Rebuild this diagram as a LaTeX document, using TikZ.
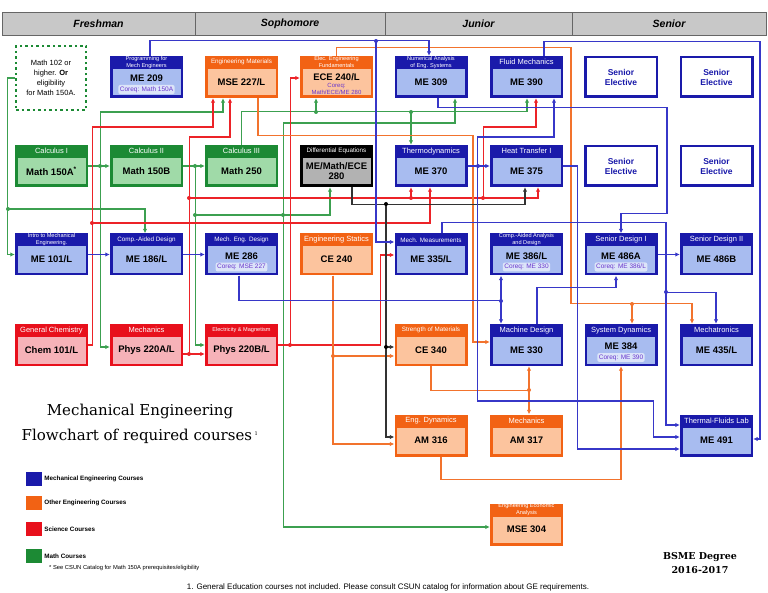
\documentclass[tikz,border=0pt]{standalone}
\usepackage{fontspec}
\setmainfont{Liberation Sans}
\newfontfamily\titleserif{DejaVu Serif}
\usepackage{tikz}
\usetikzlibrary{arrows.meta,positioning,calc}

\definecolor{medark}{RGB}{26,26,170}
\definecolor{melight}{RGB}{168,188,240}
\definecolor{mline}{RGB}{55,55,200}
\definecolor{engdark}{RGB}{242,98,20}
\definecolor{englight}{RGB}{252,196,158}
\definecolor{eline}{RGB}{242,115,45}
\definecolor{scidark}{RGB}{232,16,28}
\definecolor{scilight}{RGB}{246,178,184}
\definecolor{sline}{RGB}{236,35,40}
\definecolor{mathdark}{RGB}{28,138,52}
\definecolor{mathlight}{RGB}{160,218,168}
\definecolor{gline}{RGB}{60,160,80}
\definecolor{dedark}{RGB}{0,0,0}
\definecolor{delight}{RGB}{178,178,178}
\definecolor{coreqtext}{RGB}{105,55,205}
\definecolor{hdrfill}{RGB}{200,200,200}

\newcommand{\sm}{\fontsize{6.3}{6}\selectfont}
\newcommand{\xs}{\fontsize{5.6}{5}\selectfont}

\tikzset{
  course/.style={rectangle, minimum width=73pt, minimum height=42pt, inner sep=0pt, fill=#1dark,
    path picture={\fill[#1light] ([shift={(2.5pt,2.5pt)}]path picture bounding box.south west)
      rectangle ([shift={(-2.5pt,-13pt)}]path picture bounding box.north east);}},
  ctitle/.style={text=white, font=\fontsize{7.5}{7}\selectfont, align=center, inner sep=0pt},
  ccode/.style={font=\bfseries\fontsize{9.5}{10.5}\selectfont, align=center, inner sep=0pt},
  coreq/.style={rounded corners=2pt, fill=white!60!melight, text=coreqtext, font=\fontsize{6.5}{6.5}\selectfont, inner sep=1.5pt},
  elective/.style={rectangle, draw=medark, line width=2.5pt, fill=white, minimum width=71.5pt, minimum height=39.5pt,
    text=medark, font=\bfseries\fontsize{8.5}{10}\selectfont, align=center},
  prebox/.style={rectangle, draw=mathdark, line width=2.5pt, dash pattern=on 2.5pt off 3pt, minimum width=70pt,
    minimum height=64pt, align=center, font=\fontsize{7.5}{10}\selectfont},
  yearbar/.style={fill=hdrfill, draw=black!60, line width=0.8pt},
  yeartxt/.style={font=\bfseries\itshape\fontsize{10.5}{12}\selectfont},
  link/.style={line width=1.3pt, -{Latex[length=4.5pt,width=4.5pt]}},
  mlink/.style={link, draw=mline},
  elink/.style={link, draw=eline},
  slink/.style={link, draw=sline},
  glink/.style={link, draw=gline},
  klink/.style={link, draw=black!80},
  legsq/.style={rectangle, minimum width=16pt, minimum height=14pt, inner sep=0pt},
  legtxt/.style={font=\bfseries\fontsize{6.3}{7}\selectfont, inner sep=0pt}
}

% course box: name, kind, position, title, code
\newcommand{\course}[5]{%
  \node[course=#2] (#1) at (#3) {};
  \node[ctitle] (#1-t) at ([yshift=-6.5pt]#1.north) {#4};
  \node[ccode] (#1-c) at ([yshift=-5pt]#1.center) {#5};}
% course box with a coreq tag
\newcommand{\coursec}[6]{%
  \node[course=#2] (#1) at (#3) {};
  \node[ctitle] (#1-t) at ([yshift=-6.5pt]#1.north) {#4};
  \node[ccode] (#1-c) at ([yshift=-1.5pt]#1.center) {#5};
  \node[coreq] (#1-r) at ([yshift=-12.5pt]#1.center) {#6};}

\begin{document}
\begin{tikzpicture}[x=1pt,y=-1pt]
  \useasboundingbox (0,0) rectangle (768,593);

  % year header
  \foreach \i/\a/\b/\yr in {1/2/195/Freshman, 2/195/385/Sophomore, 3/385/572/Junior, 4/572/766/Senior} {
    \draw[yearbar] (\a,12) rectangle (\b,35);
    \node[yeartxt] (yr\i) at ({(\a+\b)/2},23.5) {\yr};
  }

  % row 1
  \node[prebox] (math102) at (51,78) {Math 102 or\\higher. \textbf{Or}\\eligibility\\for Math 150A.};
  \coursec{me209}{me}{146.5,77}{\xs Programming for\\\xs Mech Engineers}{ME 209}{Coreq: Math 150A}
  \course{mse227}{eng}{241.5,77}{\sm Engineering Materials}{MSE 227/L}
  \node[course=eng] (ece240) at (336.5,77) {};
  \node[ctitle] (ece240-t) at ([yshift=-6.5pt]ece240.north) {\xs Elec. Engineering\\\xs Fundamentals};
  \node[ccode] (ece240-c) at ([yshift=0pt]ece240.center) {ECE 240/L};
  \node[align=center, text=coreqtext, font=\fontsize{6}{7.5}\selectfont, inner sep=0pt] (ece240-r)
    at ([yshift=-12pt]ece240.center) {Coreq:\\Math/ECE/ME 280};
  \course{me309}{me}{431,77}{\xs Numerical Analysis\\\xs of Eng. Systems}{ME 309}
  \course{me390}{me}{526.5,77}{Fluid Mechanics}{ME 390}
  \node[elective] (el1) at (621,77) {Senior\\Elective};
  \node[elective] (el2) at (716.5,77) {Senior\\Elective};

  % row 2
  \course{m150a}{math}{51.5,166}{Calculus I}{Math 150A\textsuperscript{*}}
  \course{m150b}{math}{146.5,166}{Calculus II}{Math 150B}
  \course{m250}{math}{241.5,166}{Calculus III}{Math 250}
  \course{de280}{de}{336.5,166}{\sm Differential Equations}{ME/Math/ECE\\280}
  \course{me370}{me}{431,166}{Thermodynamics}{ME 370}
  \course{me375}{me}{526.5,166}{Heat Transfer I}{ME 375}
  \node[elective] (el3) at (621,166) {Senior\\Elective};
  \node[elective] (el4) at (716.5,166) {Senior\\Elective};

  % row 3
  \course{me101}{me}{51.5,254.5}{\xs Intro to Mechanical\\\xs Engineering.}{ME 101/L}
  \course{me186}{me}{146.5,254.5}{\sm Comp.-Aided Design}{ME 186/L}
  \coursec{me286}{me}{241.5,254.5}{\sm Mech. Eng. Design}{ME 286}{Coreq: MSE 227}
  \course{ce240}{eng}{336.5,254.5}{Engineering Statics}{CE 240}
  \course{me335}{me}{431,254.5}{\sm Mech. Measurements}{ME 335/L}
  \coursec{me386}{me}{526.5,254.5}{\xs Comp.-Aided Analysis\\\xs and Design}{ME 386/L}{Coreq: ME 330}
  \coursec{me486a}{me}{621,254.5}{Senior Design I}{ME 486A}{Coreq: ME 386/L}
  \course{me486b}{me}{716.5,254.5}{Senior Design II}{ME 486B}

  % row 4
  \course{chem101}{sci}{51.5,345}{General Chemistry}{Chem 101/L}
  \course{ph220a}{sci}{146.5,345}{Mechanics}{Phys 220A/L}
  \course{ph220b}{sci}{241.5,345}{\xs Electricity \& Magnetism}{Phys 220B/L}
  \course{ce340}{eng}{431,345}{\sm Strength of Materials}{CE 340}
  \course{me330}{me}{526.5,345}{Machine Design}{ME 330}
  \coursec{me384}{me}{621,345}{System Dynamics}{ME 384}{Coreq: ME 390}
  \course{me435}{me}{716.5,345}{Mechatronics}{ME 435/L}

  % row 5 and 6
  \course{am316}{eng}{431,435.5}{Eng. Dynamics}{AM 316}
  \course{am317}{eng}{526.5,435.5}{Mechanics}{AM 317}
  \course{me491}{me}{716.5,435.5}{Thermal-Fluids Lab}{ME 491}
  \course{mse304}{eng}{526.5,524.5}{\xs Engineering Economic\\\xs Analysis}{MSE 304}

  % math links
  \draw[glink] (m150a) -- (m150b);
  \draw[glink] (m150b) -- (m250);
  \draw[glink] (math102.west) -- ++(-7,0) |- (me101.west);
  \draw[glink] (math102.west) -- ++(-7,0) -- ++(0,131) -| ([xshift=-1.5pt]me186.north);
  \draw[glink] (m150a.east) -- ++(12,0) -- ++(0,-54) -| ([xshift=-18.5pt]mse227.south);
  \draw[glink] (m150a.east) -- ++(12,0) |- ([yshift=-2pt]ph220a.west);
  \draw[glink] (m250.north) -- ++(0,-33) -| ([xshift=0.5pt]me390.south);
  \draw[glink] (m250.north) -- ++(0,-33) -| ([xshift=-20.5pt]ece240.south);
  \draw[glink] (m250.north) -- ++(0,-33) -| ([xshift=-20pt]me370.north);
  \draw[glink] (m150b.east) -- ++(12,0) |- (ph220b.west);
  \draw[glink] (m150b.east) -- ++(12,0) -- ++(0,49) -| ([xshift=-6.5pt]de280.south);
  \draw[glink] (m150b.east) -- ++(12,0) -- ++(0,49) -- ++(88,0) -- ++(0,-92) -| ([xshift=24pt]me309.south);
  \draw[glink] (m150b.east) -- ++(12,0) -- ++(0,49) -- ++(88,0) |- ([yshift=-2.5pt]mse304.west);

  % science links
  \draw[slink] (chem101.east) -- ++(4,0) -- ++(0,-218) -| ([xshift=-28.5pt]mse227.south);
  \draw[slink] (chem101.east) -- ++(4,0) -- ++(0,-122) -| ([xshift=-1pt]me370.south);
  \draw[slink] ([yshift=-9pt]ph220a.east) -- ([yshift=-9pt]ph220b.west);
  \draw[slink] ([yshift=-9pt]ph220a.east) -- ++(6,0) -- ++(0,-217) -| ([xshift=-11.5pt]mse227.south);
  \draw[slink] ([yshift=-9pt]ph220a.east) -- ++(6,0) -- ++(0,-156) -| ([xshift=11.5pt]me375.south);
  \draw[slink] ([yshift=-9pt]ph220a.east) -- ++(6,0) -- ++(0,-156) -| ([xshift=-20pt]me370.south);
  \draw[slink] ([yshift=-9pt]ph220a.east) -- ++(6,0) -- ++(0,-156) -- ++(294,0) -- ++(0,-71) -| ([xshift=9.5pt]me390.south);
  \draw[slink] (ph220b.east) -- ++(102,0) |- ([yshift=-0.5pt]me335.west);
  \draw[slink] (ph220b.east) -- ++(12,0) |- ([yshift=-1pt]ece240.west);

  % other engineering links
  \draw[elink] ([xshift=16.5pt]mse227.south) -- ++(0,37) -- ++(215,0) |- ([yshift=3pt]me330.west);
  \draw[elink] (ece240.north) -- ++(0,-8) -- ++(234.5,0) -- ++(0,256) -| ([xshift=-24.5pt]me435.north);
  \draw[elink] (ece240.north) -- ++(0,-8) -- ++(234.5,0) -- ++(0,256) -| ([xshift=11pt]me384.north);
  \draw[elink] ([xshift=-3.5pt]ce240.south) |- ([yshift=-8.5pt]am316.west);
  \draw[elink] ([xshift=-3.5pt]ce240.south) |- ([yshift=-11pt]ce340.west);
  \draw[elink] (ce340.south) -- ++(0,24) -| ([xshift=2.5pt]me330.south);
  \draw[elink] (ce340.south) -- ++(0,24) -| ([xshift=2.5pt]am317.north);
  \draw[elink] ([xshift=10pt]am316.south) -- ++(0,23) -| (me384.south);

  % differential equations links
  \draw[klink] ([xshift=15.5pt]de280.south) -- ++(0,17) -| ([xshift=-1.5pt]me375.south);
  \draw[klink] ([xshift=15.5pt]de280.south) -- ++(0,17) -- ++(34,0) |- ([yshift=-2pt]ce340.west);
  \draw[klink] ([xshift=15.5pt]de280.south) -- ++(0,17) -- ++(34,0) |- ([yshift=-1.5pt]am316.west);

  % mechanical engineering links
  \draw[mlink] (me101) -- (me186);
  \draw[mlink] (me186) -- (me286);
  \draw[mlink] ([xshift=3.5pt]me209.north) -- ++(0,-15) -| ([xshift=-2pt]me309.north);
  \draw[mlink] ([xshift=3.5pt]me209.north) -- ++(0,-15) -- ++(226,0) |- ([yshift=12.5pt]me335.west);
  \draw[mlink] ([xshift=7pt]me309.south) -- ++(0,9) -- ++(229,0) -- ++(0,106) -| (me486a.north);
  \draw[mlink] ([xshift=17.5pt]me390.north) -- ++(0,-14) -- ++(216,0) |- ([yshift=-3.5pt]me491.east);
  \draw[mlink] (me370) -- (me375);
  \draw[mlink] (me370.east) -- ++(10,0) -- ++(0,-29) -| ([xshift=27.5pt]me390.south);
  \draw[mlink] (me370.east) -- ++(10,0) -- ++(0,235) -- ++(176,0) |- ([yshift=-1.5pt]me491.west);
  \draw[mlink] (me375.east) -- ++(14,0) |- ([yshift=-13.5pt]me491.west);
  \draw[mlink] ([xshift=-2.5pt]me286.south) -- ++(0,25) -| ([xshift=-25.5pt]me386.south);
  \draw[mlink] ([xshift=-2.5pt]me286.south) -- ++(0,25) -| ([xshift=-25.5pt]me330.north);
  \draw[mlink] ([xshift=10.5pt]me330.north) -- ++(0,-36) -| ([xshift=-5pt]me486a.south);
  \draw[mlink] (me486a) -- (me486b);
  \draw[mlink] ([xshift=11pt]me335.north) -- ++(0,-11) -- ++(224,0) -- ++(0,70) -| ([xshift=-0.5pt]me435.north);
  \draw[mlink] ([xshift=11pt]me335.north) -- ++(0,-11) -- ++(224,0) |- ([yshift=10.5pt]me491.west);

  % junction dots
  \foreach \x/\y in {100/166, 195/166, 8/209, 316/112, 411/112, 195/215, 283/215}
    \fill[gline] (\x,\y) circle (2pt);
  \foreach \x/\y in {92/223, 189/354, 189/198, 411/198, 483/198, 290/345}
    \fill[sline] (\x,\y) circle (2pt);
  \foreach \x/\y in {632/304, 333/356, 529/390}
    \fill[eline] (\x,\y) circle (2pt);
  \foreach \x/\y in {386/204, 386/347}
    \fill[black] (\x,\y) circle (2pt);
  \foreach \x/\y in {376/41, 478/166, 501/301, 666/292}
    \fill[mline] (\x,\y) circle (2pt);

  % title and legend
  \node[font=\titleserif\fontsize{15}{25}\selectfont, align=center] (title) at (140,424)
    {Mechanical Engineering\\Flowchart of required courses\,\textsuperscript{\fontsize{5}{5}\selectfont 1}};
  \foreach \i/\c/\y/\t in {1/medark/479/Mechanical Engineering Courses, 2/engdark/503/Other Engineering Courses,
      3/scidark/529/Science Courses, 4/mathdark/556/Math Courses} {
    \node[legsq, fill=\c] (leg\i) at (34,\y) {};
    \node[legtxt, right=2pt of leg\i] (legt\i) {\t};
  }
  \node[legtxt, anchor=west, font=\fontsize{5.8}{6}\selectfont] (star) at (49,568)
    {* See CSUN Catalog for Math 150A prerequisites/eligibility};
  \node[font=\titleserif\bfseries\fontsize{9.5}{14.5}\selectfont, align=center] (degree) at (700,563)
    {BSME Degree\\2016-2017};
  \node[font=\fontsize{8}{9}\selectfont] (note) at (388,587)
    {1. General Education courses not included. Please consult CSUN catalog for information about GE requirements.};
\end{tikzpicture}
\end{document}
